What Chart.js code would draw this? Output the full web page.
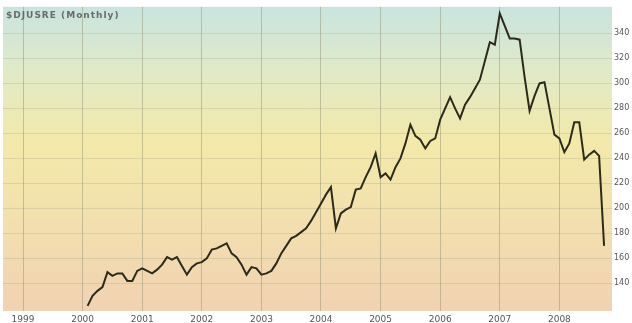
<!DOCTYPE html>
<html>
  <head>
    <meta charset="UTF-8" />
    <title>$DJUSRE (Monthly)</title>
    <style>
      * {
        margin: 0;
        padding: 0;
      }
      body {
        background: #fff;
      }
      #wrap {
        width: 632px;
        height: 323px;
      }
    </style>
  </head>
  <body>
    <div id="wrap"><canvas id="chart" width="632" height="323"></canvas></div>

    <script src="https://cdn.jsdelivr.net/npm/chart.js"></script>
    <script>
      const title = "$DJUSRE (Monthly)";
      const startYear = 2000; // first point = Jan 2000, one point per month
      const yearTicks = [1999, 2000, 2001, 2002, 2003, 2004, 2005, 2006, 2007, 2008];
      const priceTicks = [140, 160, 180, 200, 220, 240, 260, 280, 300, 320, 340];

      // monthly closes, Jan 2000 .. Sep 2008
      const closes2000 = [122, 130, 134, 137, 149, 146, 148, 148, 142, 142, 150, 152];
      const closes2001 = [150, 148, 151, 155, 161, 159, 161, 154, 147, 153, 156, 157];
      const closes2002 = [160, 167, 168, 170, 172, 164, 161, 155, 147, 153, 152, 147];
      const closes2003 = [148, 150, 156, 164, 170, 176, 178, 181, 184, 190, 197, 204];
      const closes2004 = [211, 217, 184, 196, 199, 201, 215, 216, 225, 233, 244, 225];
      const closes2005 = [228, 223, 233, 240, 252, 267, 258, 255, 248, 254, 256, 271];
      const closes2006 = [280, 289, 280, 272, 283, 289, 296, 303, 318, 333, 331, 356];
      const closes2007 = [346, 336, 336, 335, 305, 278, 290, 300, 301, 280, 259, 256];
      const closes2008 = [245, 252, 269, 269, 239, 243, 246, 242, 170];

      const closes = [].concat(closes2000, closes2001, closes2002, closes2003,
        closes2004, closes2005, closes2006, closes2007, closes2008);
      const points = closes.map((v, i) => ({ x: startYear + (i + 1) / 12, y: v }));

      // gradient background + title inside the plot area
      const backdrop = {
        id: "backdrop",
        beforeDraw(chart) {
          const { ctx, chartArea: a } = chart;
          const g = ctx.createLinearGradient(0, a.top, 0, a.bottom);
          g.addColorStop(0, "#c9e4df");
          g.addColorStop(0.22, "#e1eac6");
          g.addColorStop(0.45, "#f3e9a9");
          g.addColorStop(0.72, "#f2dfae");
          g.addColorStop(1, "#f1d2b2");
          ctx.save();
          ctx.fillStyle = g;
          ctx.fillRect(a.left, a.top, a.right - a.left, a.bottom - a.top);
          ctx.restore();
        },
        afterDraw(chart) {
          const { ctx, chartArea: a } = chart;
          ctx.save();
          ctx.font = "bold 9px 'DejaVu Sans'";
          ctx.letterSpacing = "1px";
          ctx.fillStyle = "#6a6a6a";
          ctx.textBaseline = "middle";
          ctx.fillText(title, a.left + 3, a.top + 9);
          ctx.restore();
        },
      };

      new Chart(document.getElementById("chart"), {
        type: "line",
        data: {
          datasets: [
            {
              data: points,
              borderColor: "#2b2a1c",
              borderWidth: 2,
              pointRadius: 0,
              tension: 0,
            },
          ],
        },
        options: {
          responsive: false,
          animation: false,
          layout: { padding: { left: 3, top: 3, right: 0, bottom: 0 } },
          plugins: { legend: { display: false }, tooltip: { enabled: false } },
          scales: {
            x: {
              type: "linear",
              min: 1998.664,
              max: 2008.883,
              afterBuildTicks: (s) => {
                s.ticks = yearTicks.map((v) => ({ value: v }));
              },
              afterFit: (s) => {
                s.height = 12;
              },
              grid: { color: "rgba(140,140,110,0.45)", drawTicks: false },
              border: { display: false },
              ticks: {
                padding: 3,
                maxRotation: 0,
                autoSkip: false,
                color: "#555",
                font: { family: "DejaVu Sans", size: 9 },
                callback: (v) => String(v),
              },
            },
            y: {
              position: "right",
              min: 117.9,
              max: 361.3,
              afterBuildTicks: (s) => {
                s.ticks = priceTicks.map((v) => ({ value: v }));
              },
              afterFit: (s) => {
                s.width = 20;
              },
              grid: { color: "rgba(150,150,120,0.25)", drawTicks: false },
              border: { display: false },
              ticks: {
                padding: 2,
                color: "#555",
                font: { family: "DejaVu Sans", size: 8 },
              },
            },
          },
        },
        plugins: [backdrop],
      });
    </script>
  </body>
</html>
